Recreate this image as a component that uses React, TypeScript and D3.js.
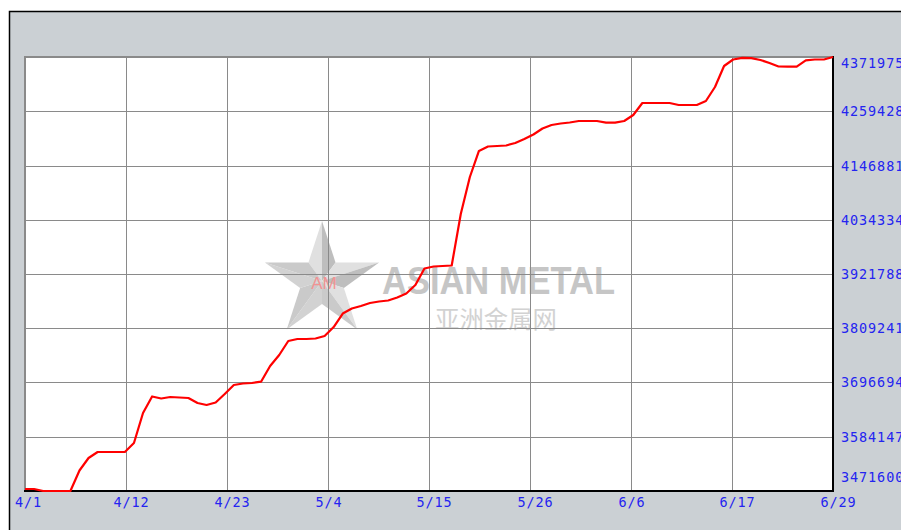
import React from "react";
import * as d3 from "d3";

const xTickLabels = ["4/1", "4/12", "4/23", "5/4", "5/15", "5/26", "6/6", "6/17", "6/29"];
const yTickValues = [3471600, 3584147, 3696694, 3809241, 3921788, 4034334, 4146881, 4259428, 4371975];

// daily prices, 4/1 .. 6/29 (index = day)
const prices = [
  3475700, 3475700, 3471600, 3471600, 3471600, 3471600, 3514100, 3540100, 3552500, 3552500,
  3552500, 3552500, 3571200, 3633400, 3667700, 3663500, 3666600, 3665600, 3664500, 3654200,
  3650000, 3655200, 3672800, 3691500, 3694600, 3695700, 3698400, 3730900, 3753700, 3782800,
  3786900, 3786900, 3788000, 3793200, 3811800, 3839800, 3850200, 3855400, 3861600, 3864700,
  3866800, 3873000, 3881300, 3899000, 3933200, 3937300, 3938400, 3939400, 4046300, 4123000,
  4177000, 4186300, 4187300, 4188400, 4193600, 4201900, 4211200, 4223600, 4230900, 4234000,
  4236100, 4239200, 4239200, 4239200, 4235700, 4235700, 4239200, 4251600, 4276500, 4276500,
  4276500, 4276500, 4272400, 4272400, 4272400, 4280700, 4309700, 4353300, 4366800, 4370300,
  4369500, 4365800, 4359500, 4352300, 4351900, 4351900, 4364800, 4366800, 4366800, 4371975,
];

const W = 901;
const H = 530;
const L = 25;
const R = 833;
const T = 57;
const B = 491;
const labelFont = "'DejaVu Sans Mono', monospace";
const blue = "#2424f0";

export default function App() {
  const n = prices.length - 1;
  const x = d3.scaleLinear().domain([0, n]).range([L, R]);
  const y = d3.scaleLinear().domain([yTickValues[0], yTickValues[yTickValues.length - 1]]).range([B, T]);
  const tickPos = xTickLabels.map((_, i) => (i * n) / (xTickLabels.length - 1));

  const line = d3
    .line<number>()
    .x((_, i) => x(i))
    .y((d) => y(d))
    .curve(d3.curveLinear);

  // star watermark
  const cx = 322, cy = 281, Ro = 60, Ri = 23;
  const outer = d3.range(5).map((k) => {
    const a = -Math.PI / 2 + (k * 2 * Math.PI) / 5;
    return [cx + Ro * Math.cos(a), cy + Ro * Math.sin(a)];
  });
  const inner = d3.range(5).map((k) => {
    const a = -Math.PI / 2 + Math.PI / 5 + (k * 2 * Math.PI) / 5;
    return [cx + Ri * Math.cos(a), cy + Ri * Math.sin(a)];
  });
  const facets: { pts: number[][]; fill: string }[] = [];
  for (let k = 0; k < 5; k++) {
    const prevInner = inner[(k + 4) % 5];
    facets.push({ pts: [[cx, cy], prevInner, outer[k]], fill: k < 3 ? "#d6d6d6" : "#c4c4c4" });
    facets.push({ pts: [[cx, cy], outer[k], inner[k]], fill: k < 2 ? "#a9a9a9" : "#b9b9b9" });
  }

  return (
    <svg
      width={W}
      height={H}
      style={{ position: "absolute", left: 0, top: 0, background: "#ffffff" }}
    >
      <rect x={9.5} y={11.5} width={W} height={H} fill="#cbd0d4" stroke="#000" strokeWidth={1.5} />
      <rect x={L} y={T} width={R - L} height={B - T} fill="#ffffff" />

      {/* watermark */}
      <g opacity={0.75}>
        {facets.map((f, i) => (
          <polygon key={i} points={f.pts.map((p) => p.join(",")).join(" ")} fill={f.fill} />
        ))}
        <text
          x={cx + 2}
          y={cy + 8}
          textAnchor="middle"
          fontFamily="'Liberation Sans', Arial, sans-serif"
          fontSize={17}
          fill="#ee7070"
        >
          AM
        </text>
        <text
          x={382}
          y={294}
          fontFamily="'Liberation Sans', Arial, sans-serif"
          fontWeight="bold"
          fontSize={38}
          textLength={233}
          lengthAdjust="spacingAndGlyphs"
          fill="#b4b4b4"
        >
          ASIAN METAL
        </text>
        <text
          x={435}
          y={328}
          fontFamily="'Noto Sans CJK SC', sans-serif"
          fontSize={24}
          textLength={122}
          lengthAdjust="spacingAndGlyphs"
          fill="#c4c4c4"
        >
          亚洲金属网
        </text>
      </g>

      {/* grid */}
      <g stroke="#8a8a8a" strokeWidth={1}>
        {tickPos.slice(1, -1).map((t, i) => (
          <line key={"v" + i} x1={Math.round(x(t)) + 0.5} x2={Math.round(x(t)) + 0.5} y1={T} y2={B} />
        ))}
        {yTickValues.slice(1, -1).map((v, i) => (
          <line key={"h" + i} x1={L} x2={R} y1={Math.round(y(v)) + 0.5} y2={Math.round(y(v)) + 0.5} />
        ))}
      </g>

      {/* frame */}
      <line x1={L} x2={L} y1={T - 1} y2={B} stroke="#8a8a8a" strokeWidth={2} />
      <line x1={L - 1} x2={R} y1={T} y2={T} stroke="#8a8a8a" strokeWidth={2} />
      <line x1={R} x2={R} y1={T - 1} y2={B + 1} stroke="#000" strokeWidth={2} />
      <line x1={L - 1} x2={R + 1} y1={B} y2={B} stroke="#000" strokeWidth={2} />

      {/* data line */}
      <path d={line(prices) || ""} fill="none" stroke="#ff0000" strokeWidth={2.2} strokeLinejoin="round" />

      {/* x labels */}
      {xTickLabels.map((lab, i) => {
        const px = x(tickPos[i]);
        return (
          <text
            key={lab}
            x={Math.max(15, px - 12.5)}
            y={507}
            fontFamily={labelFont}
            fontSize={13.5}
            letterSpacing={0.9}
            fill={blue}
          >
            {lab}
          </text>
        );
      })}

      {/* y labels */}
      {yTickValues.map((v) => {
        const cyv = Math.min(477, Math.max(63, y(v)));
        return (
          <text
            key={v}
            x={841}
            y={cyv + 5}
            fontFamily={labelFont}
            fontSize={13.5}
            letterSpacing={0.9}
            fill={blue}
          >
            {v}
          </text>
        );
      })}
    </svg>
  );
}
